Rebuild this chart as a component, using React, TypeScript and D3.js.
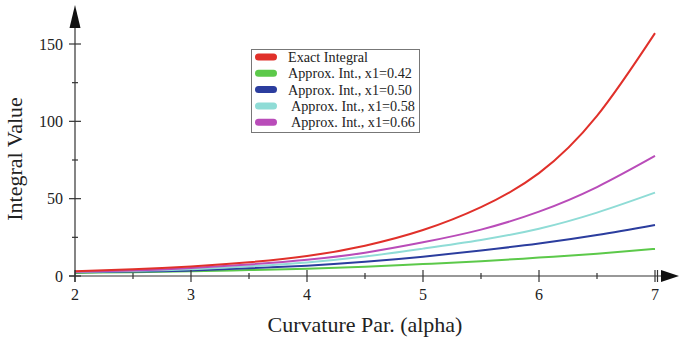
import React from 'react';
import * as d3 from 'd3';

const alphas = [2, 2.5, 3, 3.5, 4, 4.5, 5, 5.5, 6, 6.5, 7];

const exactVals = [3.0, 4.3, 6.2, 8.9, 12.9, 19.6, 29.7, 44.5, 66.5, 103.5, 157];
const approx042 = [2.0, 2.5, 3.0, 3.8, 4.7, 6.0, 7.7, 9.5, 11.9, 14.4, 17.5];
const approx050 = [2.4, 2.9, 3.6, 5.0, 6.7, 9.2, 12.5, 16.5, 21.0, 26.5, 33];
const approx058 = [2.6, 3.3, 4.4, 6.3, 8.8, 12.6, 17.7, 23.3, 30.6, 41.0, 53.9];
const approx066 = [2.7, 3.6, 5.2, 7.5, 10.5, 15.1, 21.8, 30.0, 41.6, 57.5, 77.6];

const seriesNames = [
  'Exact Integral',
  'Approx. Int., x1=0.42',
  'Approx. Int., x1=0.50',
  'Approx. Int., x1=0.58',
  'Approx. Int., x1=0.66',
];
const seriesColors = ['#e0302a', '#5cc94a', '#2b3d9e', '#8fdcd6', '#b94cb9'];

const xTicks = [2, 3, 4, 5, 6, 7];
const xMinor = [2.5, 3.5, 4.5, 5.5, 6.5];
const yTicks = [0, 50, 100, 150];
const yMinor = [25, 75, 125];

const font = '"Liberation Serif", "Times New Roman", serif';

const App = () => {
  const width = 679;
  const height = 340;

  const x = d3.scaleLinear().domain([2, 7]).range([75, 655]);
  const y = d3.scaleLinear().domain([0, 150]).range([276, 44]);

  const allSeries = [exactVals, approx042, approx050, approx058, approx066];

  const line = d3
    .line<number>()
    .x((d, i) => x(alphas[i]))
    .y((d) => y(d))
    .curve(d3.curveNatural);

  // draw order: green, blue, cyan, magenta, red on top
  const order = [1, 2, 3, 4, 0];

  const x0 = x(2);
  const y0 = y(0);

  return (
    <svg
      width={width}
      height={height}
      style={{ position: 'absolute', left: 0, top: 0 }}
      fontFamily={font}
    >
      <rect width={width} height={height} fill="#fff" />

      {order.map((k) => (
        <path
          key={k}
          d={line(allSeries[k]) || ''}
          fill="none"
          stroke={seriesColors[k]}
          strokeWidth={2}
        />
      ))}

      {/* axes */}
      <g stroke="#333" strokeWidth={1.2}>
        <line x1={x0} x2={x0} y1={y0 + 6} y2={20} />
        <line x1={x0 - 6} x2={664} y1={y0} y2={y0} />
        {yTicks.map((t) => (
          <line key={t} x1={x0 - 6} x2={x0 + 6} y1={y(t)} y2={y(t)} />
        ))}
        {yMinor.map((t) => (
          <line key={t} x1={x0 - 3} x2={x0 + 3} y1={y(t)} y2={y(t)} />
        ))}
        {xTicks.map((t) => (
          <line key={t} x1={x(t)} x2={x(t)} y1={y0 - 6} y2={y0 + 6} />
        ))}
        {xMinor.map((t) => (
          <line key={t} x1={x(t)} x2={x(t)} y1={y0 - 3} y2={y0 + 3} />
        ))}
        <line x1={x(7) + 2.5} x2={x(7) + 2.5} y1={y0 - 6} y2={y0 + 6} />
      </g>
      <path d={`M${x0},5 L${x0 - 5.5},28 L${x0 + 5.5},28 Z`} fill="#111" />
      <path d={`M679,${y0} L661,${y0 - 6} L661,${y0 + 6} Z`} fill="#111" />

      {yTicks.map((t) => (
        <text
          key={t}
          x={x0 - 12}
          y={y(t)}
          dy="0.35em"
          textAnchor="end"
          fontSize={16}
          fill="#222"
        >
          {t}
        </text>
      ))}
      {xTicks.map((t) => (
        <text
          key={t}
          x={x(t)}
          y={y0 + 24}
          textAnchor="middle"
          fontSize={16}
          fill="#222"
        >
          {t}
        </text>
      ))}

      <text x={365} y={332} textAnchor="middle" fontSize={22} fill="#222">
        Curvature Par. (alpha)
      </text>
      <text
        transform="translate(22,159) rotate(-90)"
        textAnchor="middle"
        fontSize={22}
        fill="#222"
      >
        Integral Value
      </text>

      {/* legend */}
      <rect x={251.5} y={49.5} width={168} height={83} fill="#fff" stroke="#777" strokeWidth={1} />
      {seriesNames.map((name, i) => {
        const ry = 57 + i * 16.3;
        return (
          <g key={name}>
            <rect x={255} y={ry - 3.5} width={22} height={7} rx={3.5} fill={seriesColors[i]} />
            <text x={i < 3 ? 288 : 291} y={ry} dy="0.35em" fontSize={14.2} fill="#222">
              {name}
            </text>
          </g>
        );
      })}
    </svg>
  );
};

export default App;
